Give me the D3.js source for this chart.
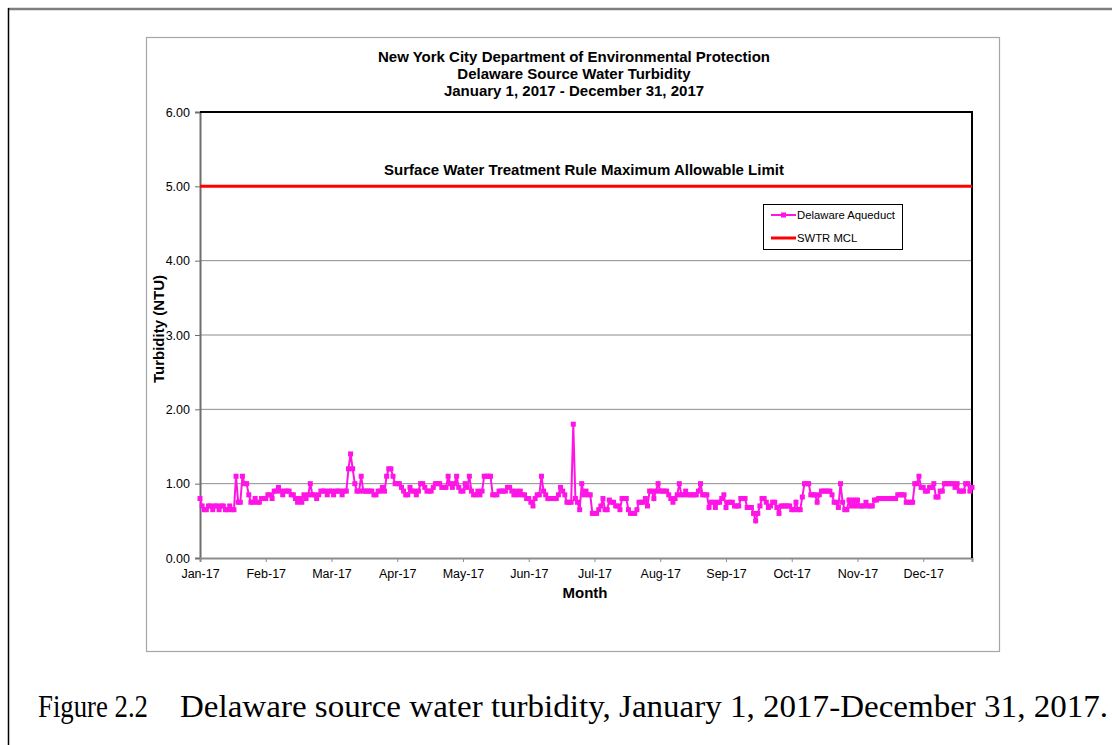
<!DOCTYPE html>
<html lang="en">
<head>
    <meta charset="UTF-8">
    <title>Delaware Source Water Turbidity 2017</title>
    <script src="https://d3js.org/d3.v7.min.js" charset="utf-8"></script>
    <style>
        body { margin: 0; background: #fff; }
        svg text { font-family: 'Liberation Sans', Arial, sans-serif; fill: #000; }
    </style>
</head>
<body>
<script>
// daily turbidity readings (NTU), one small array per month
var jan = [0.8,0.7,0.65,0.65,0.7,0.7,0.65,0.7,0.7,0.65,0.7,0.7,0.65,0.65,0.7,0.65,0.65,1.1,0.75,0.75,1.1,1.0,1.0,0.85,0.75,0.75,0.8,0.75,0.75,0.8,0.8];
var feb = [0.8,0.85,0.85,0.8,0.9,0.9,0.95,0.9,0.85,0.9,0.9,0.9,0.85,0.85,0.8,0.75,0.8,0.75,0.85,0.8,0.85,1.0,0.85,0.85,0.8,0.85,0.9,0.9];
var mar = [0.9,0.85,0.9,0.9,0.85,0.9,0.9,0.9,0.85,0.9,0.9,1.2,1.4,1.2,1.0,0.9,0.9,1.1,0.9,0.9,0.9,0.9,0.9,0.85,0.85,0.9,0.9,0.95,0.9,1.1,1.2];
var apr = [1.2,1.1,1.0,1.0,1.0,0.95,0.9,0.85,0.85,0.95,0.9,0.9,0.85,0.9,1.0,1.0,0.95,0.9,0.9,0.9,0.95,1.0,1.0,1.0,0.95,0.95,0.95,1.1,1.0,0.95];
var may = [1.0,1.1,0.95,0.9,0.9,1.0,0.95,1.1,0.9,0.85,0.85,0.9,0.85,0.9,1.1,1.1,1.1,1.1,0.85,0.85,0.85,0.9,0.9,0.9,0.9,0.95,0.95,0.9,0.85,0.9,0.85];
var jun = [0.9,0.85,0.85,0.8,0.8,0.75,0.7,0.8,0.85,0.85,1.1,0.9,0.85,0.8,0.8,0.8,0.8,0.8,0.85,0.95,0.9,0.85,0.75,0.75,0.75,1.8,0.8,0.75,0.65,1.0];
var jul = [0.85,0.9,0.85,0.85,0.6,0.6,0.6,0.65,0.7,0.8,0.65,0.65,0.78,0.75,0.75,0.7,0.7,0.65,0.8,0.8,0.8,0.65,0.6,0.6,0.6,0.65,0.75,0.75,0.75,0.8,0.7];
var aug = [0.9,0.9,0.8,0.9,1.0,0.9,0.9,0.9,0.9,0.85,0.8,0.75,0.8,0.85,1.0,0.85,0.85,0.9,0.85,0.85,0.85,0.85,0.85,0.9,1.0,0.85,0.85,0.85,0.68,0.75,0.75];
var sep = [0.68,0.75,0.75,0.8,0.85,0.68,0.75,0.75,0.75,0.7,0.7,0.7,0.8,0.8,0.8,0.68,0.68,0.68,0.6,0.5,0.6,0.7,0.8,0.8,0.75,0.68,0.7,0.75,0.75,0.68];
var oct = [0.6,0.7,0.7,0.7,0.7,0.7,0.65,0.65,0.75,0.65,0.65,0.82,1.0,1.0,1.0,0.85,0.85,0.85,0.75,0.85,0.9,0.9,0.9,0.9,0.9,0.85,0.75,0.75,0.68,1.0,0.75];
var nov = [0.65,0.65,0.78,0.7,0.78,0.7,0.78,0.7,0.7,0.7,0.75,0.7,0.7,0.7,0.78,0.78,0.8,0.8,0.8,0.8,0.8,0.8,0.8,0.8,0.8,0.85,0.85,0.85,0.85,0.75];
var dec = [0.75,0.75,0.75,1.0,1.0,1.1,0.95,0.95,0.9,0.9,0.95,0.95,1.0,0.82,0.82,0.9,0.9,1.0,1.0,1.0,1.0,1.0,0.95,1.0,0.9,0.9,0.9,1.0,1.0,0.9,0.95];

var monthLabels = ['Jan-17','Feb-17','Mar-17','Apr-17','May-17','Jun-17','Jul-17','Aug-17','Sep-17','Oct-17','Nov-17','Dec-17'];
var yTicks = [0, 1, 2, 3, 4, 5, 6];
var swtrLimit = 5.0;
var titleLines = ['New York City Department of Environmental Protection', 'Delaware Source Water Turbidity', 'January 1, 2017 - December 31, 2017'];

(function () {
    var daily = [].concat(jan, feb, mar, apr, may, jun, jul, aug, sep, oct, nov, dec);
    var points = daily.map(function (v, i) { return { day: i, value: v }; });

    var W = 1112, H = 745;
    var pLeft = 200, pRight = 972, pTop = 112, pBottom = 558;
    var magenta = '#ff14e6';

    var svg = d3.select('body').append('svg')
        .attr('width', W)
        .attr('height', H);

    // page frame
    svg.append('line').attr('x1', 8).attr('x2', W).attr('y1', 9).attr('y2', 9)
        .attr('stroke', '#7f7f7f').attr('stroke-width', 2.5);
    svg.append('line').attr('x1', 8.5).attr('x2', 8.5).attr('y1', 8).attr('y2', H)
        .attr('stroke', '#000').attr('stroke-width', 1.5);

    // chart box
    svg.append('rect').attr('x', 146.5).attr('y', 37.5).attr('width', 853).attr('height', 614)
        .attr('fill', '#fff').attr('stroke', '#a6a6a6').attr('stroke-width', 1.2);

    var x = d3.scaleLinear().domain([0, daily.length - 1]).range([pLeft, pRight]);
    var y = d3.scaleLinear().domain([0, 6]).range([pBottom, pTop]);

    // gridlines
    svg.append('g').selectAll('line')
        .data(yTicks.filter(function (d) { return d > 0 && d < 6; }))
        .enter().append('line')
        .attr('x1', pLeft).attr('x2', pRight)
        .attr('y1', function (d) { return y(d); }).attr('y2', function (d) { return y(d); })
        .attr('stroke', '#8c8c8c').attr('stroke-width', 1);

    // y axis
    var yAxis = d3.axisLeft(y).tickValues(yTicks).tickSize(5).tickPadding(5)
        .tickFormat(d3.format('.2f'));
    var gy = svg.append('g').attr('transform', 'translate(' + pLeft + ',0)').call(yAxis);
    gy.select('.domain').attr('stroke', '#6e6e6e').attr('stroke-width', 2);
    gy.selectAll('.tick line').attr('stroke', '#6e6e6e');
    gy.selectAll('.tick text').style('font-size', '12.5px').style('font-family', 'Liberation Sans, Arial, sans-serif');

    // x axis, a tick every 31 days as in the source sheet
    var xAxis = d3.axisBottom(x)
        .tickValues(monthLabels.map(function (d, i) { return i * 31; }))
        .tickSize(4).tickPadding(7)
        .tickFormat(function (d, i) { return monthLabels[i]; });
    var gx = svg.append('g').attr('transform', 'translate(0,' + pBottom + ')').call(xAxis);
    gx.select('.domain').attr('stroke', '#8c8c8c').attr('stroke-width', 2);
    gx.selectAll('.tick line').attr('stroke', '#8c8c8c');
    gx.selectAll('.tick text').style('font-size', '12.5px').style('font-family', 'Liberation Sans, Arial, sans-serif');

    // top and right plot border
    svg.append('path')
        .attr('d', 'M' + pLeft + ',' + pTop + 'H' + pRight + 'V' + pBottom)
        .attr('fill', 'none').attr('stroke', '#000').attr('stroke-width', 2);

    // SWTR limit line
    svg.append('line')
        .attr('x1', pLeft).attr('x2', pRight)
        .attr('y1', y(swtrLimit)).attr('y2', y(swtrLimit))
        .attr('stroke', '#ff0000').attr('stroke-width', 3);

    svg.append('text')
        .attr('x', 584).attr('y', 174.5)
        .attr('text-anchor', 'middle')
        .style('font-size', '15px').style('font-weight', 'bold')
        .text('Surface Water Treatment Rule Maximum Allowable Limit');

    // turbidity series
    var line = d3.line()
        .x(function (d) { return x(d.day); })
        .y(function (d) { return y(d.value); });

    svg.append('path')
        .datum(points)
        .attr('d', line)
        .attr('fill', 'none')
        .attr('stroke', magenta)
        .attr('stroke-width', 2);

    svg.append('g').selectAll('rect')
        .data(points)
        .enter().append('rect')
        .attr('x', function (d) { return x(d.day) - 2.5; })
        .attr('y', function (d) { return y(d.value) - 2.5; })
        .attr('width', 5).attr('height', 5)
        .attr('fill', magenta);

    // titles
    svg.append('g').selectAll('text')
        .data(titleLines)
        .enter().append('text')
        .attr('x', 574).attr('y', function (d, i) { return 61.5 + i * 17; })
        .attr('text-anchor', 'middle')
        .style('font-size', '15px').style('font-weight', 'bold')
        .text(function (d) { return d; });

    svg.append('text')
        .attr('transform', 'translate(164,329) rotate(-90)')
        .attr('text-anchor', 'middle')
        .style('font-size', '15px').style('font-weight', 'bold')
        .text('Turbidity (NTU)');

    svg.append('text')
        .attr('x', 585).attr('y', 597.5)
        .attr('text-anchor', 'middle')
        .style('font-size', '15px').style('font-weight', 'bold')
        .text('Month');

    // legend
    var legend = svg.append('g').attr('transform', 'translate(763,204)');
    legend.append('rect').attr('x', 0.5).attr('y', 0.5).attr('width', 139).attr('height', 45)
        .attr('fill', '#fff').attr('stroke', '#000').attr('stroke-width', 1);
    legend.append('line').attr('x1', 8).attr('x2', 33).attr('y1', 11).attr('y2', 11)
        .attr('stroke', magenta).attr('stroke-width', 2);
    legend.append('rect').attr('x', 18).attr('y', 8.5).attr('width', 5).attr('height', 5).attr('fill', magenta);
    legend.append('text').attr('x', 34).attr('y', 15).style('font-size', '11.3px').text('Delaware Aqueduct');
    legend.append('line').attr('x1', 8).attr('x2', 33).attr('y1', 34).attr('y2', 34)
        .attr('stroke', '#ff0000').attr('stroke-width', 3);
    legend.append('text').attr('x', 34).attr('y', 38).style('font-size', '11.3px').text('SWTR MCL');

    // figure caption
    var capFont = 'Liberation Serif, Times New Roman, serif';
    svg.append('text')
        .attr('x', 38).attr('y', 717)
        .attr('textLength', 110).attr('lengthAdjust', 'spacingAndGlyphs')
        .style('font-size', '31px').style('font-family', capFont)
        .text('Figure 2.2');
    svg.append('text')
        .attr('x', 180).attr('y', 717)
        .attr('textLength', 928).attr('lengthAdjust', 'spacingAndGlyphs')
        .style('font-size', '31px').style('font-family', capFont)
        .text('Delaware source water turbidity, January 1, 2017-December 31, 2017.');
})();
</script>
</body>
</html>
